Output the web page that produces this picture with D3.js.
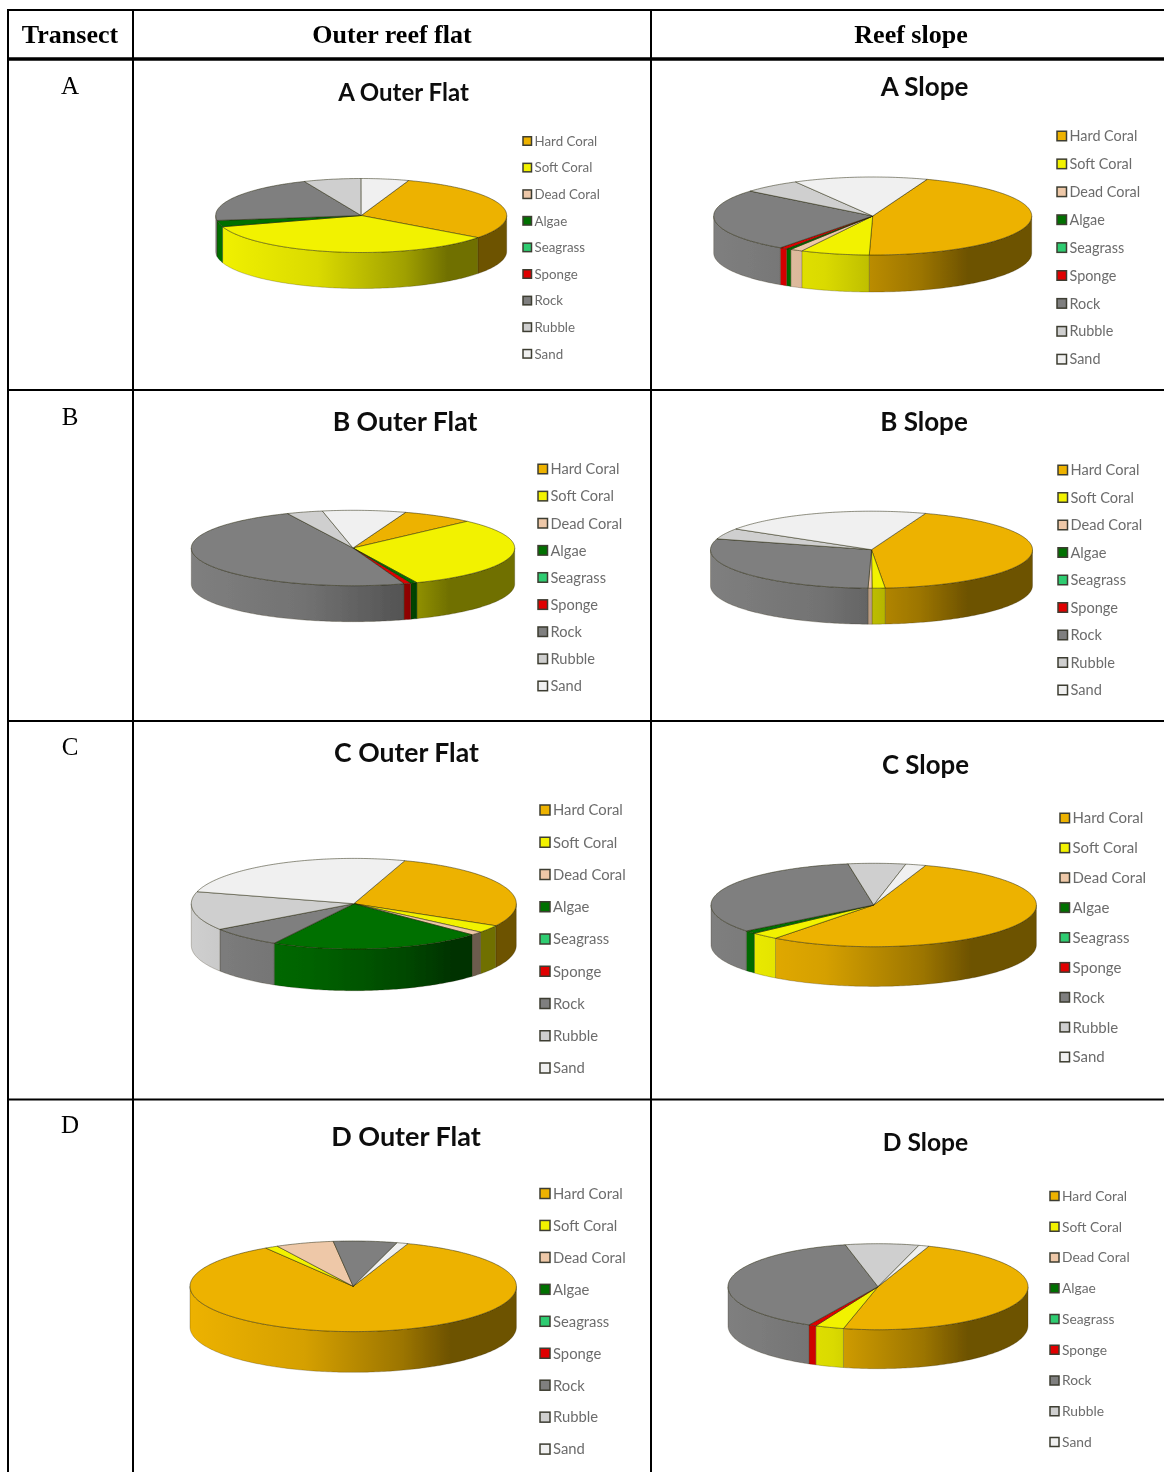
<!DOCTYPE html>
<html>
<head>
<meta charset="utf-8">
<title>Benthic cover by transect and reef zone</title>
<script src="https://cdnjs.cloudflare.com/ajax/libs/d3/7.8.5/d3.min.js"></script>
<style>
html,body{margin:0;padding:0;background:#fff;}
svg{display:block;}
</style>
</head>
<body>
<svg id="chart" width="1164" height="1472"></svg>
<script>
// Benthic categories, in the order they run clockwise round each pie
const categories = ["Hard Coral","Soft Coral","Dead Coral","Algae","Seagrass","Sponge","Rock","Rubble","Sand"];
const categoryColours = ["#edb200","#f2f200","#eec8a8","#006f00","#2ecc71","#e00000","#7f7f7f","#cfcfcf","#f0f0f0"];

// Percent cover for each transect and zone
const aOuterFlat = [30,35,0,2.8,0,0,20.8,6.4,5.3];
const aSlope     = [44.7,7,1.25,0.5,0,0.75,26.1,5.9,13.6];
const bOuterFlat = [7.2,31,0,0.65,0,0.7,48.4,3.6,8.3];
const bSlope     = [43.2,1.3,0.4,0,0,0,29.2,4.5,21.4];
const cOuterFlat = [28.1,2.7,1.25,21.2,0,0,7.3,13.9,25.9];
const cSlope     = [55.2,2.8,0,1.2,0,0,33.2,5.7,2];
const dOuterFlat = [85.6,1.3,5.75,0,0,0,6.3,0,1.1];
const dSlope     = [48.2,3.1,0,0,0,0.8,38.9,7.9,1.1];

const headers = ["Transect","Outer reef flat","Reef slope"];
const rowLabels = ["A","B","C","D"];

// Table rules
const columnLines = [8,133,651];
const rowLines = [390,721,1099.5];
const headerCentres = [70,392,911];
const rowLabelBaselines = [94,425,755,1133];

// One entry per pie: title, series, pie rotation in degrees and the layout of its legend
const panels = [
  {title:"A Outer Flat",values:aOuterFlat,rotation:19,  cx:361.2,cy:215.5,rx:145.5,ry:37,  depth:36,  tx:403.5,ty:93,  ts:24,  lx:523, ly:141, step:26.6, ls:13.3,sw:8.5},
  {title:"A Slope",     values:aSlope,    rotation:20,  cx:872.7,cy:216,  rx:159,  ry:39,  depth:37,  tx:924.5,ty:87,  ts:26,  lx:1057,ly:136, step:27.9, ls:14.4,sw:9.5},
  {title:"B Outer Flat",values:bOuterFlat,rotation:19,  cx:353,  cy:548,  rx:161.7,ry:37.7,depth:36,  tx:405,  ty:422, ts:26.6,lx:538, ly:469, step:27.12,ls:14.6,sw:9.5},
  {title:"B Slope",     values:bSlope,    rotation:19.6,cx:871.5,cy:549.7,rx:161,  ry:38.5,depth:36,  tx:924,  ty:422, ts:26,  lx:1058,ly:470, step:27.5, ls:14.6,sw:9.5},
  {title:"C Outer Flat",values:cOuterFlat,rotation:18.3,cx:353.8,cy:903.7,rx:162.5,ry:45.3,depth:41.7,tx:406.5,ty:753, ts:26.6,lx:540, ly:810, step:32.25,ls:14.8,sw:10},
  {title:"C Slope",     values:cSlope,    rotation:18.6,cx:873.7,cy:905,  rx:162.7,ry:41.7,depth:39.7,tx:925.5,ty:765, ts:25.8,lx:1060,ly:818, step:29.88,ls:15,  sw:9.5},
  {title:"D Outer Flat",values:dOuterFlat,rotation:19.6,cx:353.2,cy:1286.3,rx:163.2,ry:45.3,depth:40.7,tx:406,ty:1137,ts:27,  lx:540, ly:1193.5,step:31.95,ls:14.8,sw:10},
  {title:"D Slope",     values:dSlope,    rotation:19.8,cx:878,  cy:1286.7,rx:150,  ry:43,  depth:39,  tx:925.5,ty:1142,ts:24.6,lx:1050,ly:1196,step:30.75,ls:13.8,sw:9}
];

// Side shading: full colour on the left of the pie, falling to a dark band on the right
const sideOffsets = [0,0.35,0.65,0.8,1];
const sideBrightness = [1,0.9,0.66,0.46,0.46];

const svg = d3.select("#chart");
const defs = svg.append("defs");
defs.append("filter").attr("id","soft")
  .attr("x","-5%").attr("y","-5%").attr("width","110%").attr("height","110%")
  .append("feGaussianBlur").attr("stdDeviation",0.55);

const degrees = Math.PI/180;
const pie = d3.pie().sort(null);
const outline = d3.line().curve(d3.curveLinear);

// Draw each pie and its legend
panels.forEach((panel,panelIndex)=>{
  const g = svg.append("g").attr("filter","url(#soft)");
  const sx = d3.scaleLinear([-1,1],[panel.cx-panel.rx,panel.cx+panel.rx]);
  const sy = d3.scaleLinear([-1,1],[panel.cy-panel.ry,panel.cy+panel.ry]);
  const rim = (theta,drop=0)=>[sx(Math.sin(theta)),sy(-Math.cos(theta))+drop];
  const sweep = (a,b)=>{
    const n = Math.max(2,Math.ceil((b-a)/degrees));
    return d3.range(n+1).map(i=>a+(b-a)*i/n);
  };

  categoryColours.forEach((colour,i)=>{
    const grad = defs.append("linearGradient")
      .attr("id",`side-${panelIndex}-${i}`)
      .attr("gradientUnits","userSpaceOnUse")
      .attr("x1",sx(-1)).attr("x2",sx(1)).attr("y1",0).attr("y2",0);
    const base = d3.rgb(colour);
    sideOffsets.forEach((offset,k)=>{
      const b = sideBrightness[k];
      grad.append("stop").attr("offset",offset)
        .attr("stop-color",d3.rgb(base.r*b,base.g*b,base.b*b).formatHex());
    });
  });

  const rotation = panel.rotation*degrees;
  const slices = pie.startAngle(rotation).endAngle(rotation+2*Math.PI)(panel.values)
    .map(d=>({...d,category:d.index}))
    .filter(d=>d.value>0);

  // Visible wall of the disc: the part of each slice on the front half
  const front = slices
    .map(d=>({d,a:Math.max(d.startAngle,Math.PI/2),b:Math.min(d.endAngle,1.5*Math.PI)}))
    .filter(s=>s.b>s.a);
  g.selectAll("path.side").data(front).join("path").attr("class","side")
    .attr("d",s=>{
      const angles = sweep(s.a,s.b);
      const topEdge = angles.map(t=>rim(t));
      const bottomEdge = angles.slice().reverse().map(t=>rim(t,panel.depth));
      return outline(topEdge.concat(bottomEdge))+"Z";
    })
    .attr("fill",s=>`url(#side-${panelIndex}-${s.d.category})`)
    .attr("stroke","rgba(40,30,0,0.4)").attr("stroke-width",0.6);

  // Top face of the disc
  g.selectAll("path.top").data(slices).join("path").attr("class","top")
    .attr("d",d=>outline([[panel.cx,panel.cy]].concat(sweep(d.startAngle,d.endAngle).map(t=>rim(t))))+"Z")
    .attr("fill",d=>categoryColours[d.category])
    .attr("stroke","rgba(30,30,0,0.6)").attr("stroke-width",0.8).attr("stroke-linejoin","round");

  g.append("text").text(panel.title)
    .attr("x",panel.tx).attr("y",panel.ty).attr("dy","0.35em")
    .attr("text-anchor","middle")
    .attr("font-family","Lato, 'Open Sans', sans-serif").attr("font-weight",700)
    .attr("font-size",panel.ts).attr("fill","#111");

  const legend = g.selectAll("g.entry").data(categories).join("g").attr("class","entry")
    .attr("transform",(c,i)=>`translate(${panel.lx},${panel.ly+i*panel.step})`);
  legend.append("rect")
    .attr("x",0).attr("y",-panel.sw/2).attr("width",panel.sw).attr("height",panel.sw)
    .attr("fill",(c,i)=>categoryColours[i]).attr("stroke","#3c3c30").attr("stroke-width",1.5);
  legend.append("text").text(c=>c)
    .attr("x",panel.sw+3).attr("dy","0.36em")
    .attr("font-family","Lato, 'Open Sans', sans-serif")
    .attr("font-size",panel.ls).attr("fill","#6c6c6c");
});

// Table frame and text
const rules = svg.append("g").attr("stroke","#000");
columnLines.forEach(x=>rules.append("line").attr("x1",x).attr("x2",x).attr("y1",9).attr("y2",1472).attr("stroke-width",2));
rules.append("line").attr("x1",7).attr("x2",1164).attr("y1",10).attr("y2",10).attr("stroke-width",2);
rules.append("line").attr("x1",7).attr("x2",1164).attr("y1",59).attr("y2",59).attr("stroke-width",3.5);
rowLines.forEach(y=>rules.append("line").attr("x1",7).attr("x2",1164).attr("y1",y).attr("y2",y).attr("stroke-width",2));

svg.selectAll("text.header").data(headers).join("text").attr("class","header")
  .text(d=>d)
  .attr("x",(d,i)=>headerCentres[i]).attr("y",43)
  .attr("text-anchor","middle")
  .attr("font-family","'Liberation Serif', serif").attr("font-weight",700)
  .attr("font-size",26).attr("fill","#000");
svg.selectAll("text.row").data(rowLabels).join("text").attr("class","row")
  .text(d=>d)
  .attr("x",70).attr("y",(d,i)=>rowLabelBaselines[i])
  .attr("text-anchor","middle")
  .attr("font-family","'Liberation Serif', serif")
  .attr("font-size",25).attr("fill","#000");
</script>
</body>
</html>
